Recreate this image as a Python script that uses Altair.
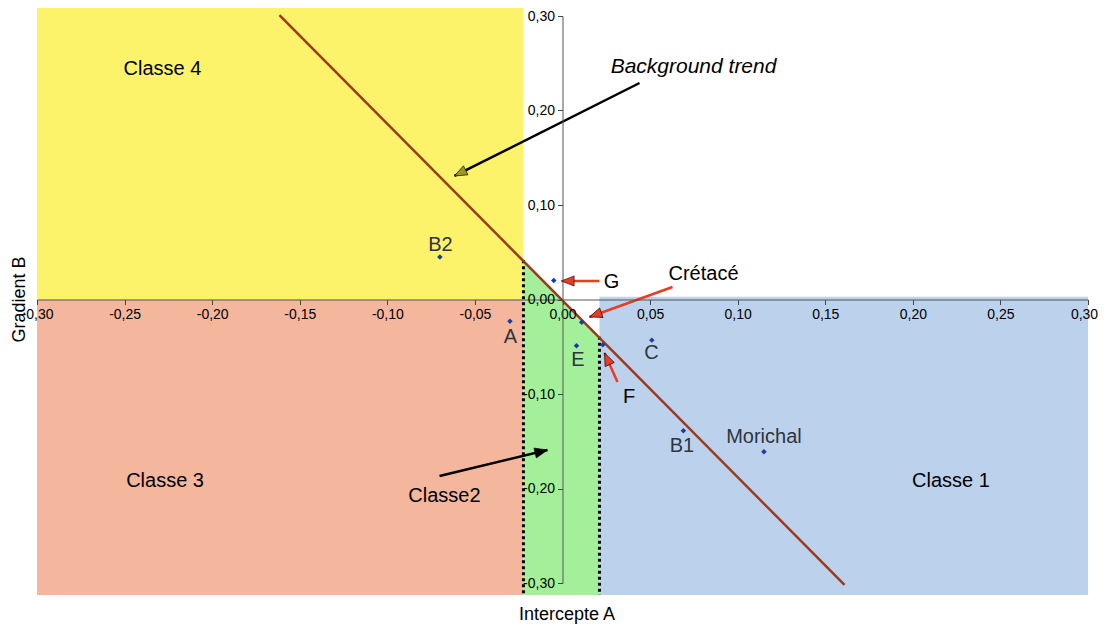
import math
import altair as alt
import pandas as pd

# ---------------- data ----------------
x_ticks = [-0.30, -0.25, -0.20, -0.15, -0.10, -0.05, 0.00, 0.05, 0.10, 0.15, 0.20, 0.25, 0.30]
y_ticks = [-0.30, -0.20, -0.10, 0.00, 0.10, 0.20, 0.30]

# measured wells (Intercept A, Gradient B)
well_names = ["B2", "A", "G", "Crétacé", "E", "F", "C", "B1", "Morichal"]
well_A = [-0.070, -0.030, -0.005, 0.011, 0.008, 0.023, 0.051, 0.069, 0.115]
well_B = [0.045, -0.023, 0.020, -0.024, -0.049, -0.048, -0.043, -0.139, -0.161]

# point labels
plabel_text = ["B2", "A", "E", "C", "B1", "Morichal"]
plabel_A = [-0.0697, -0.0297, 0.0088, 0.0508, 0.0682, 0.1150]
plabel_B = [0.0572, -0.0402, -0.0640, -0.0561, -0.1545, -0.1450]

# background trend line
trend_A = [-0.1616, 0.1610]
trend_B = [0.3010, -0.3020]

# class zones
zone_name = ["Classe 4", "Classe 3", "Classe 1"]
zone_A1 = [-0.300, -0.300, 0.0211]
zone_A2 = [-0.0223, -0.0223, 0.300]
zone_B1 = [0.000, -0.3127, -0.3127]
zone_B2 = [0.3116, 0.000, 0.003]
zone_color = ["#fcf36a", "#f5b69e", "#bcd2ec"]

# classe 2 zone (between the dotted limits, under the trend)
c2_A = [-0.0223, 0.0211]
c2_top = [0.0416, -0.0394]
c2_bottom = [-0.3127, -0.3127]

# annotation texts
ann_text = ["Classe 4", "Classe 3", "Classe 1", "Classe2", "Crétacé", "G", "F"]
ann_A = [-0.2284, -0.2269, 0.2218, -0.0674, 0.0805, 0.0280, 0.0380]
ann_B = [0.2434, -0.1920, -0.1920, -0.2079, 0.0270, 0.0190, -0.1037]

# arrows (tail -> head)
arrow_name = ["trend", "G", "Crétacé", "F", "Classe2"]
arrow_tA = [0.0440, 0.0211, 0.0628, 0.0314, -0.0702]
arrow_tB = [0.2291, 0.0196, 0.0132, -0.0873, -0.1868]
arrow_hA = [-0.0617, -0.0006, 0.0154, 0.0240, -0.0086]
arrow_hB = [0.1307, 0.0196, -0.0185, -0.0566, -0.1593]
arrow_color = ["black", "#ec3b22", "#ec3b22", "#ec3b22", "black"]
arrow_head_fill = ["#9a9a24", "#ec3b22", "#ec3b22", "#ec3b22", "black"]

# ---------------- layout ----------------
W, H = 1051, 567
FONT = "Liberation Sans"
DOM = [-0.30, 0.30]
sx = W / (DOM[1] - DOM[0])
sy = H / (DOM[1] - DOM[0])

label_expr = "replace(replace(format(datum.value, '.2f'), '.', ','), '\u2212', '-')"

x_axis = alt.Axis(values=x_ticks, offset=-H / 2, title=None, grid=False, zindex=1,
                  labelExpr=label_expr, labelFont=FONT, labelFontSize=14, labelColor="black",
                  labelFlush=False, labelOverlap=False, labelPadding=3,
                  labelOffset={"condition": {"test": "datum.value > 0.29", "value": -4}, "value": 0},
                  tickSize=5, tickColor="#444", domainColor="#555", domainWidth=1)
y_axis = alt.Axis(values=y_ticks, offset=-W / 2, title=None, grid=False, zindex=1,
                  labelExpr=label_expr, labelFont=FONT, labelFontSize=14, labelColor="black",
                  labelFlush=False, labelOverlap=False, labelPadding=3,
                  tickSize=5, tickColor="#444", domainColor="#555", domainWidth=1)
xs = alt.Scale(domain=DOM, nice=False, zero=False)
ys = alt.Scale(domain=DOM, nice=False, zero=False)


def X(f):
    return alt.X(f, type="quantitative", scale=xs, axis=x_axis)


def Y(f):
    return alt.Y(f, type="quantitative", scale=ys, axis=y_axis)


zones = pd.DataFrame({"name": zone_name, "a": zone_A1, "a2": zone_A2,
                      "b": zone_B1, "b2": zone_B2, "col": zone_color})
rects = alt.Chart(zones).mark_rect(opacity=1).encode(
    x=X("a"), x2="a2", y=Y("b"), y2="b2",
    color=alt.Color("col:N", scale=None))

c2 = pd.DataFrame({"a": c2_A, "b": c2_top, "b2": c2_bottom})
green = alt.Chart(c2).mark_area(color="#a4f09a", opacity=1).encode(
    x=X("a"), y=Y("b"), y2="b2")

lim = pd.DataFrame({"a": c2_A, "b": c2_top, "b2": c2_bottom})
dotted = alt.Chart(lim).mark_rule(color="black", strokeWidth=3, strokeDash=[3, 3]).encode(
    x=X("a"), y=Y("b"), y2="b2")

tr = pd.DataFrame({"a": trend_A, "b": trend_B})
trend = alt.Chart(tr).mark_line(color="#9c3a1e", strokeWidth=2.5).encode(
    x=X("a"), y=Y("b"))

wells = pd.DataFrame({"name": well_names, "a": well_A, "b": well_B})
pts = alt.Chart(wells).mark_point(shape="diamond", filled=True, size=30, color="#1d3b9e", opacity=1).encode(
    x=X("a"), y=Y("b"))

pl = pd.DataFrame({"t": plabel_text, "a": plabel_A, "b": plabel_B})
plabels = alt.Chart(pl).mark_text(font=FONT, fontSize=20, color="#2e3440", baseline="middle", align="center").encode(
    x=X("a"), y=Y("b"), text="t:N")

an = pd.DataFrame({"t": ann_text, "a": ann_A, "b": ann_B})
anns = alt.Chart(an).mark_text(font=FONT, fontSize=20, color="black", baseline="middle", align="center").encode(
    x=X("a"), y=Y("b"), text="t:N")

bt = pd.DataFrame({"t": ["Background trend"], "a": [0.0748], "b": [0.2460]})
btext = alt.Chart(bt).mark_text(font=FONT, fontSize=21, fontStyle="italic", color="black",
                                baseline="middle", align="center").encode(
    x=X("a"), y=Y("b"), text="t:N")

tx = pd.DataFrame({"t": ["Intercepte A"], "a": [0.0026], "b": [-0.3335]})
xtitle = alt.Chart(tx).mark_text(font=FONT, fontSize=18, color="black", baseline="middle", align="center").encode(
    x=X("a"), y=Y("b"), text="t:N")
ty = pd.DataFrame({"t": ["Gradient B"], "a": [-0.3095], "b": [0.0]})
ytitle = alt.Chart(ty).mark_text(font=FONT, fontSize=18, color="black", baseline="middle", align="center",
                                 angle=270).encode(
    x=X("a"), y=Y("b"), text="t:N")

# arrows
angles = []
for ta, tb, ha, hb in zip(arrow_tA, arrow_tB, arrow_hA, arrow_hB):
    dx = (ha - ta) * sx
    dy = -(hb - tb) * sy
    angles.append(math.degrees(math.atan2(dx, -dy)) % 360)
ar = pd.DataFrame({"n": arrow_name, "a": arrow_tA, "b": arrow_tB, "a2": arrow_hA, "b2": arrow_hB,
                   "col": arrow_color, "fill": arrow_head_fill, "ang": angles})
shafts = alt.Chart(ar).mark_rule(strokeWidth=2.5).encode(
    x=X("a"), y=Y("b"), x2="a2", y2="b2", color=alt.Color("col:N", scale=None))
heads = alt.Chart(ar).mark_point(shape="M0,0L-0.8,2L0.8,2Z", filled=True, size=160, opacity=1,
                                 stroke="black", strokeWidth=0.6).encode(
    x=X("a2"), y=Y("b2"), angle=alt.Angle("ang:Q", scale=None),
    fill=alt.Fill("fill:N", scale=None))

chart = alt.layer(rects, green, dotted, trend, pts, plabels, anns, btext, xtitle, ytitle, shafts, heads).properties(
    width=W, height=H,
    autosize=alt.AutoSizeParams(type="none"),
    padding={"left": 29, "top": 8, "right": 11, "bottom": 41},
    background="white",
).configure_view(stroke=None)

chart.save("out.html", embed_options={"renderer": "svg", "actions": False})
